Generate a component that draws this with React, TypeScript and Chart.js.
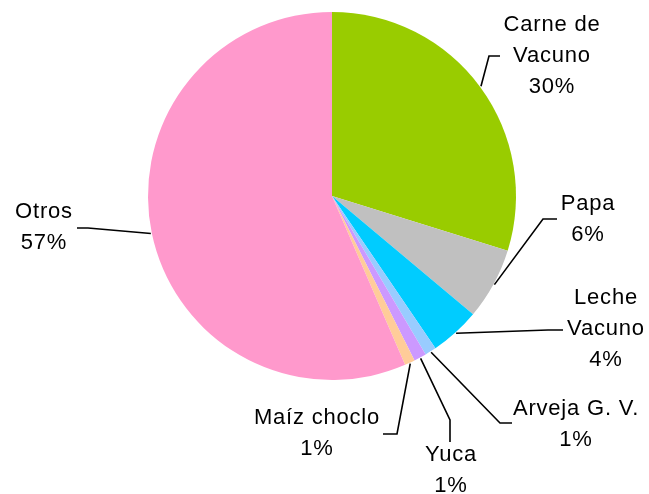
import React, { useEffect, useRef } from "react";
import { Chart, registerables } from "chart.js";

Chart.register(...registerables);

const categories = ["Carne de Vacuno", "Papa", "Leche Vacuno", "Arveja G. V.", "Yuca", "Maíz choclo", "Otros"];
const values = [29.8, 6.3, 4.4, 1.0, 1.1, 0.9, 56.5];
const labelLines = [
  ["Carne de", "Vacuno", "30%"],
  ["Papa", "6%"],
  ["Leche", "Vacuno", "4%"],
  ["Arveja G. V.", "1%"],
  ["Yuca", "1%"],
  ["Maíz choclo", "1%"],
  ["Otros", "57%"],
];
const colors = ["#99CC00", "#C0C0C0", "#00CCFF", "#99CCFF", "#CC99FF", "#FFCC99", "#FF99CC"];

// label layout: text block center x, first line middle y, leader elbow and end points
const labelLayout = [
  { x: 552, y: 25, path: [[489, 56], [500, 56]] },
  { x: 588, y: 204, path: [[543, 219], [557, 219]] },
  { x: 606, y: 298, path: [[548, 330], [563, 330]] },
  { x: 576, y: 409, path: [[500, 423], [512, 423]] },
  { x: 451, y: 455, path: [[450, 420], [450, 442]] },
  { x: 317, y: 418, path: [[397, 434], [383, 434]] },
  { x: 44, y: 212, path: [[88, 228], [77, 228]] },
];
const LINE_HEIGHT = 31;

const labelPlugin = {
  id: "pieLabels",
  afterDraw(chart: any) {
    const ctx = chart.ctx;
    const meta = chart.getDatasetMeta(0);
    ctx.save();
    ctx.strokeStyle = "#000";
    ctx.lineWidth = 1.6;
    meta.data.forEach((arc: any, i: number) => {
      const p = arc.getProps(["x", "y", "startAngle", "endAngle", "outerRadius"], true);
      const mid = (p.startAngle + p.endAngle) / 2;
      const r = p.outerRadius + 1;
      const sx = p.x + Math.cos(mid) * r;
      const sy = p.y + Math.sin(mid) * r;
      const lay = labelLayout[i];
      ctx.beginPath();
      ctx.moveTo(sx, sy);
      lay.path.forEach((pt) => ctx.lineTo(pt[0], pt[1]));
      ctx.stroke();
    });
    ctx.fillStyle = "#000";
    ctx.font = "22px 'Liberation Sans', Arial, sans-serif";
    ctx.textAlign = "center";
    ctx.textBaseline = "middle";
    try {
      (ctx as any).letterSpacing = "0.8px";
    } catch (e) {}
    labelLines.forEach((lines, i) => {
      const lay = labelLayout[i];
      lines.forEach((t, j) => {
        ctx.fillText(t, lay.x, lay.y + j * LINE_HEIGHT);
      });
    });
    ctx.restore();
  },
};

export default function App() {
  const ref = useRef<HTMLCanvasElement | null>(null);
  useEffect(() => {
    if (!ref.current) return;
    const chart = new Chart(ref.current, {
      type: "pie",
      data: {
        labels: categories,
        datasets: [
          {
            data: values,
            backgroundColor: colors,
            borderWidth: 0,
          },
        ],
      },
      options: {
        responsive: false,
        animation: false,
        layout: { padding: { left: 100, right: 85, top: 12, bottom: 114 } },
        plugins: {
          legend: { display: false },
          tooltip: { enabled: false },
        },
      },
      plugins: [labelPlugin],
    });
    return () => chart.destroy();
  }, []);
  return (
    <div style={{ position: "absolute", left: 0, top: 0, width: 649, height: 494, background: "#fff" }}>
      <canvas ref={ref} width={649} height={494} />
    </div>
  );
}
